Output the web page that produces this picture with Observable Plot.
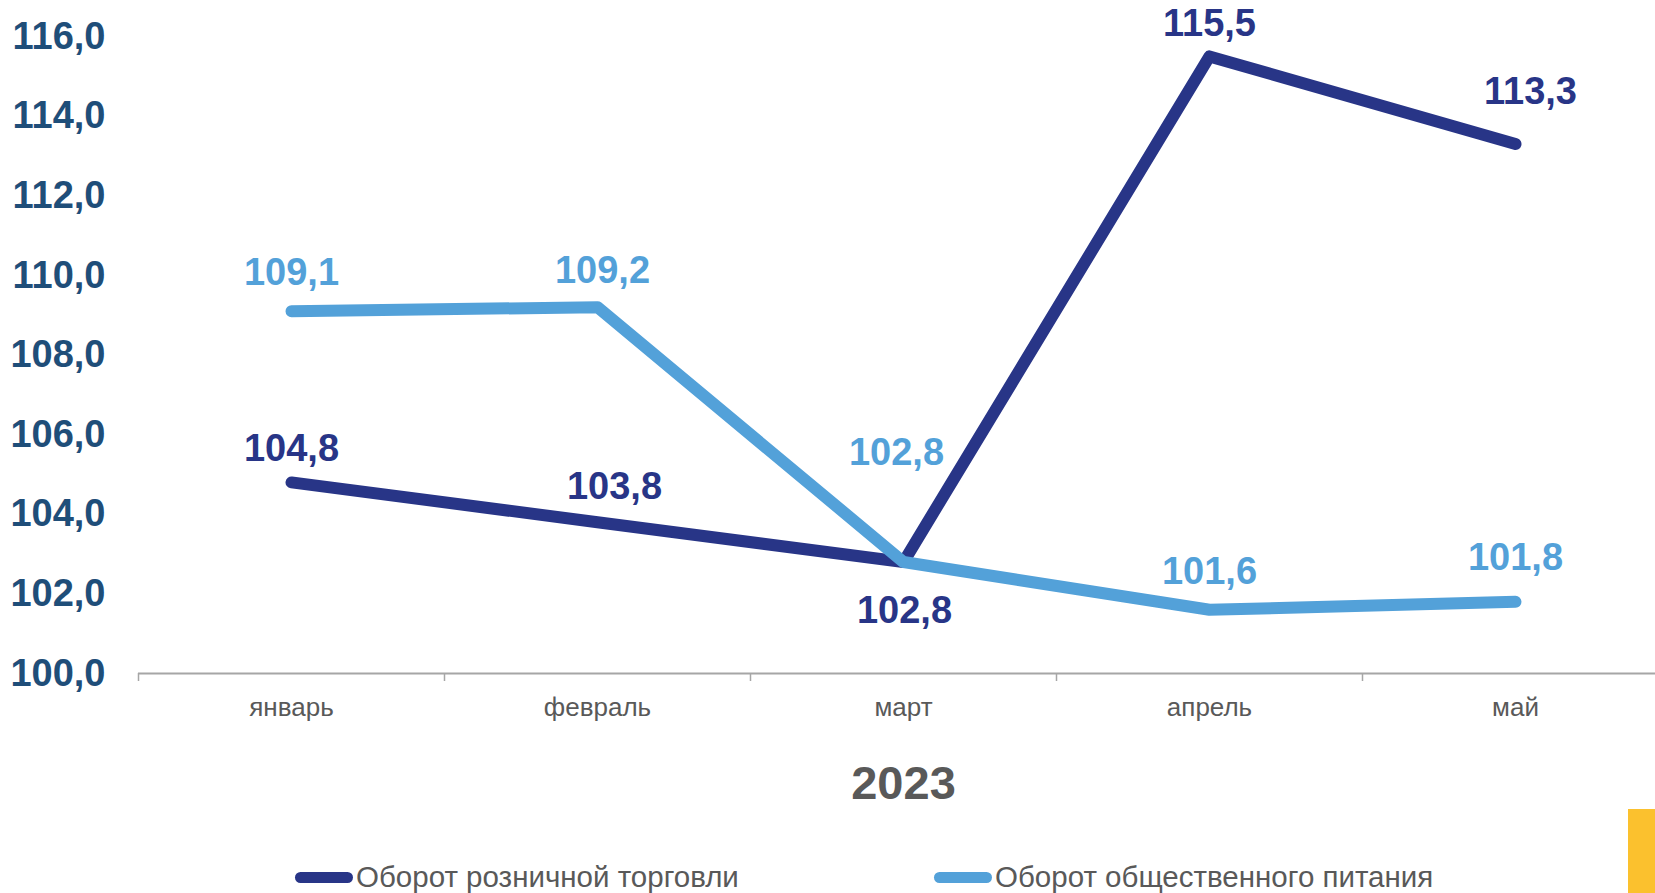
<!DOCTYPE html>
<html>
<head>
<meta charset="utf-8">
<script src="https://cdn.jsdelivr.net/npm/d3@7"></script>
<script src="https://cdn.jsdelivr.net/npm/@observablehq/plot@0.6"></script>
<style>
  html, body { margin: 0; padding: 0; background: #fff; }
  #wrap { position: relative; width: 1655px; height: 893px; overflow: hidden; font-family: "Liberation Sans", Arial, sans-serif; }
  #legend { position: absolute; left: 0; top: 830px; width: 1655px; height: 63px; }
  .item { position: absolute; top: 47px; display: flex; align-items: center; font-size: 29.5px; color: #595959; white-space: nowrap; }
  .sw { width: 58px; height: 11px; border-radius: 6px; margin-right: 3px; }
  #deco { position: absolute; left: 1628px; top: 809px; width: 27px; height: 84px; background: #FBC12E; }
</style>
</head>
<body>
<div id="wrap">
  <div id="chart"></div>
  <div id="legend"></div>
  <div id="deco"></div>
</div>
<script>
// ---- data ----
const months = ["январь", "февраль", "март", "апрель", "май"];
const retail = [104.8, 103.8, 102.8, 115.5, 113.3];     // Оборот розничной торговли
const catering = [109.1, 109.2, 102.8, 101.6, 101.8];   // Оборот общественного питания
const seriesNames = ["Оборот розничной торговли", "Оборот общественного питания"];
const yTicks = [100, 102, 104, 106, 108, 110, 112, 114, 116];
const yearLabel = "2023";

// ---- styling (not data) ----
const colors = ["#283587", "#53A1D9"];
const retailLabelOffsets = [[0, -34], [17, -35], [1, 49], [0, -33], [15, -52]];
const cateringLabelOffsets = [[0, -38], [5, -36], [-7, -109], [0, -38], [0, -44]];

const fmt = v => v.toFixed(1).replace(".", ",");
const retailRows = months.map((m, i) => ({month: m, value: retail[i], dx: retailLabelOffsets[i][0], dy: retailLabelOffsets[i][1]}));
const cateringRows = months.map((m, i) => ({month: m, value: catering[i], dx: cateringLabelOffsets[i][0], dy: cateringLabelOffsets[i][1]}));

const labelMarks = (rows, color) => rows.map(r => Plot.text([r], {
  x: "month", y: "value", text: d => fmt(d.value),
  dx: r.dx, dy: r.dy, fill: color, fontSize: 38, fontWeight: "bold"
}));

const chart = Plot.plot({
  width: 1655,
  height: 830,
  marginLeft: 138,
  marginRight: -13,
  marginTop: 0,
  marginBottom: 157,
  style: {fontFamily: "'Liberation Sans', Arial, sans-serif", background: "#fff"},
  x: {type: "band", domain: months, padding: 0},
  y: {domain: [100, 116], range: [673, 36]},
  marks: [
    Plot.ruleY([100], {stroke: "#A6A6A6", strokeWidth: 2}),
    Plot.axisX({tickSize: 8, dx: -153, text: null, stroke: "#A6A6A6", strokeWidth: 1.5, label: null}),
    Plot.axisX({tickSize: 0, tickPadding: 24, fontSize: 26, fill: "#595959", label: null}),
    Plot.axisY({ticks: yTicks, tickSize: 0, tickPadding: 33, tickFormat: fmt, fontSize: 38, fontWeight: "bold", fill: "#1F4E79", label: null}),
    Plot.text([yearLabel], {frameAnchor: "bottom", lineAnchor: "middle", dy: 110, fontSize: 47, fontWeight: "bold", fill: "#595959"}),
    Plot.line(retailRows, {x: "month", y: "value", stroke: colors[0], strokeWidth: 12, strokeLinecap: "round", strokeLinejoin: "round"}),
    Plot.line(cateringRows, {x: "month", y: "value", stroke: colors[1], strokeWidth: 12, strokeLinecap: "round", strokeLinejoin: "round"}),
    ...labelMarks(retailRows, colors[0]),
    ...labelMarks(cateringRows, colors[1])
  ]
});
document.getElementById("chart").appendChild(chart);

// legend
const legend = document.getElementById("legend");
const legendLefts = [295, 934];
seriesNames.forEach((name, i) => {
  const it = document.createElement("div");
  it.className = "item";
  it.style.left = legendLefts[i] + "px";
  it.style.transform = "translateY(-50%)";
  const sw = document.createElement("span");
  sw.className = "sw";
  sw.style.background = colors[i];
  const tx = document.createElement("span");
  tx.textContent = name;
  it.appendChild(sw);
  it.appendChild(tx);
  legend.appendChild(it);
});
</script>
</body>
</html>
